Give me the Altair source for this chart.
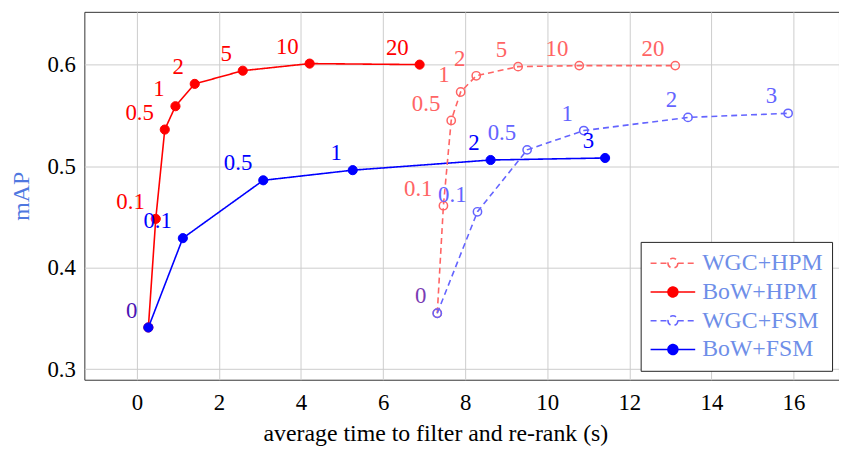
import altair as alt
import pandas as pd

# ---------------- data ----------------
series_order = ["WGC+HPM", "BoW+HPM", "WGC+FSM", "BoW+FSM"]

bow_hpm_x = [0.28, 0.46, 0.68, 0.94, 1.41, 2.58, 4.21, 6.89]
bow_hpm_y = [0.341, 0.448, 0.536, 0.559, 0.581, 0.594, 0.601, 0.600]
bow_hpm_lab = ["0", "0.1", "0.5", "1", "2", "5", "10", "20"]

bow_fsm_x = [0.28, 1.12, 3.08, 5.26, 8.62, 11.41]
bow_fsm_y = [0.341, 0.429, 0.486, 0.496, 0.506, 0.508]
bow_fsm_lab = ["0", "0.1", "0.5", "1", "2", "3"]

wgc_hpm_x = [7.32, 7.47, 7.66, 7.89, 8.27, 9.29, 10.78, 13.12]
wgc_hpm_y = [0.355, 0.461, 0.545, 0.573, 0.589, 0.598, 0.599, 0.599]
wgc_hpm_lab = ["0", "0.1", "0.5", "1", "2", "5", "10", "20"]

wgc_fsm_x = [7.32, 8.30, 9.51, 10.89, 13.43, 15.87]
wgc_fsm_y = [0.355, 0.455, 0.516, 0.535, 0.548, 0.552]
wgc_fsm_lab = ["0", "0.1", "0.5", "1", "2", "3"]

x_ticks = [0, 2, 4, 6, 8, 10, 12, 14, 16]
y_ticks = [0.3, 0.4, 0.5, 0.6]

# ---------------- styles ----------------
FONT = "Liberation Serif"
series_colors = ["#ff6464", "#ff0000", "#6464ff", "#0000ff"]
series_fill = ["transparent", "#ff0000", "transparent", "#0000ff"]
series_dash = [[6, 4], [1, 0], [6, 4], [1, 0]]
label_color = {"WGC+HPM": "#ff6464", "BoW+HPM": "#ff0000",
               "WGC+FSM": "#6464ff", "BoW+FSM": "#0000ff"}
zero_color = {"BoW+FSM": "#4b14b4", "WGC+FSM": "#7a3cb4"}

rows = []
for name, xs, ys, labs in [
    ("BoW+HPM", bow_hpm_x, bow_hpm_y, bow_hpm_lab),
    ("BoW+FSM", bow_fsm_x, bow_fsm_y, bow_fsm_lab),
    ("WGC+HPM", wgc_hpm_x, wgc_hpm_y, wgc_hpm_lab),
    ("WGC+FSM", wgc_fsm_x, wgc_fsm_y, wgc_fsm_lab),
]:
    for i, (x, y, l) in enumerate(zip(xs, ys, labs)):
        if l == "0":
            show = name in zero_color
            lc = zero_color.get(name, label_color[name])
        else:
            show = True
            lc = label_color[name]
        rows.append({"series": name, "i": i, "x": x, "y": y, "lab": l,
                     "show": show, "lc": lc, "kind": name[:3]})
df = pd.DataFrame(rows)

# legend glyph: a horizontal line with a circle on it (drawn twice as wide as its box)
legend_path = ("M-2,0L-0.44,0M0.44,0L2,0"
               "M0.44,0A0.44,0.44 0 1 1 -0.44,0A0.44,0.44 0 1 1 0.44,0Z")

xs = alt.X("x:Q", scale=alt.Scale(domain=[-1.28, 17.11], nice=False, zero=False),
           axis=alt.Axis(values=x_ticks, title="average time to filter and re-rank (s)",
                         grid=True, ticks=False, domain=False, labelPadding=12,
                         titlePadding=7, titleX=354, labelFlush=False))
ys = alt.Y("y:Q", scale=alt.Scale(domain=[0.2895, 0.652], nice=False, zero=False),
           axis=alt.Axis(values=y_ticks, format=".1f", title="mAP", grid=True,
                         ticks=False, domain=False, labelPadding=9, titlePadding=14,
                         titleColor="#4f78e0", labelFlush=False))

legend = alt.Legend(title=None, orient="none", legendX=561, legendY=232,
                    symbolType=legend_path, symbolSize=506, symbolStrokeWidth=1.6,
                    symbolOffset=11,
                    labelFont=FONT, labelFontSize=24, labelColor="#6e8ee8",
                    labelOffset=17, rowPadding=4, padding=9,
                    strokeColor="#222222", fillColor="white")

color = alt.Color("series:N", scale=alt.Scale(domain=series_order, range=series_colors),
                  legend=legend)
dash = alt.StrokeDash("series:N", scale=alt.Scale(domain=series_order, range=series_dash),
                      legend=legend)
fill = alt.Fill("series:N", scale=alt.Scale(domain=series_order, range=series_fill),
                legend=legend)

base = alt.Chart(df)

lines = base.mark_line(strokeWidth=1.6).encode(
    x=xs, y=ys, color=color, strokeDash=dash, detail="series:N",
    order=alt.Order("i:Q"))

pts_bow = base.transform_filter(alt.datum.kind == "BoW").mark_point(
    size=85, strokeWidth=1, opacity=1, shape="circle").encode(
    x=xs, y=ys, color=color, fill=fill)

pts_wgc = base.transform_filter(alt.datum.kind == "WGC").mark_point(
    size=70, strokeWidth=1.5, opacity=1, shape="circle").encode(
    x=xs, y=ys, color=color, fill=fill)

labels = base.transform_filter(alt.datum.show).mark_text(
    font=FONT, fontSize=23, align="right", baseline="alphabetic", dx=-11, dy=-10).encode(
    x=xs, y=ys, text="lab:N", color=alt.Color("lc:N", scale=None, legend=None))

chart = alt.layer(lines, pts_wgc, pts_bow, labels).properties(
    width=761, height=371,
    autosize=alt.AutoSizeParams(type="none"),
    padding={"left": 77, "top": 2, "right": 0, "bottom": 70},
).configure_view(stroke="#333333", strokeWidth=1).configure_axis(
    labelFont=FONT, titleFont=FONT, labelFontSize=23, titleFontSize=24,
    labelColor="black", titleColor="black", titleFontWeight="normal",
    gridColor="#cccccc", gridWidth=1
).configure_axisY(titleColor="#4f78e0")

chart.save("out.html", embed_options={"renderer": "svg", "actions": False})
